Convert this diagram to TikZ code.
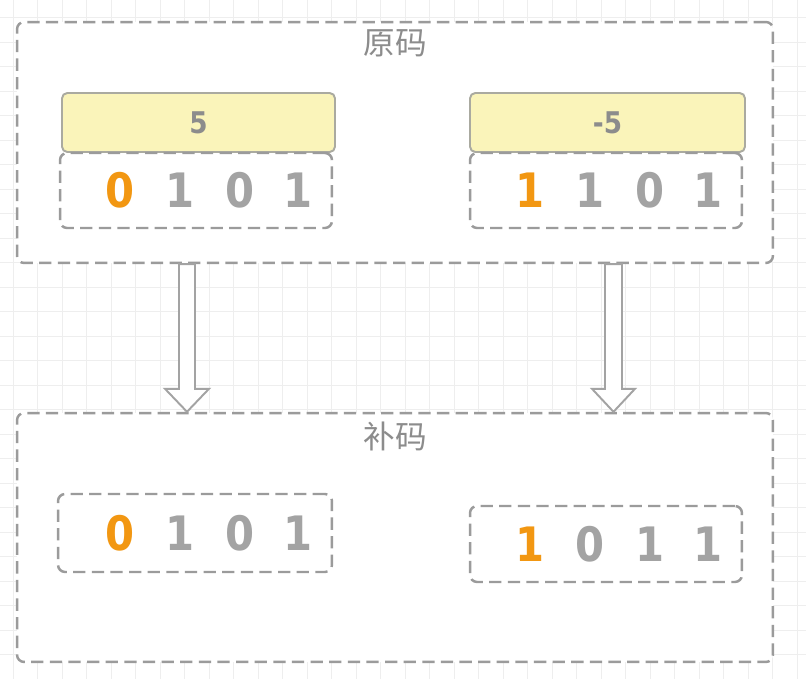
\documentclass[tikz,border=0pt]{standalone}
\usepackage{fontspec}
\newfontfamily\cjkfont{Noto Sans CJK SC}
\newfontfamily\bitfont[FakeStretch=0.88]{DejaVu Sans}
\definecolor{GridColor}{RGB}{238,238,238}
\definecolor{LineGray}{RGB}{155,155,155}
\definecolor{BitGray}{RGB}{163,163,163}
\definecolor{SignOrange}{RGB}{242,151,18}
\definecolor{HeadFill}{RGB}{250,244,186}
\definecolor{HeadLine}{RGB}{170,170,160}
\definecolor{LabelGray}{RGB}{140,140,140}
\usetikzlibrary{calc}

\tikzset{
  dashedframe/.style={draw=LineGray, line width=1.4pt, dash pattern=on 7pt off 3.6pt, rounded corners=4pt, fill=white},
  groupbox/.style={dashedframe, minimum width=15.12cm},
  bitbox/.style={dashedframe, minimum width=5.44cm, minimum height=1.5cm},
  headbox/.style={draw=HeadLine, line width=1.1pt, fill=HeadFill, rounded corners=3pt, minimum height=1.18cm, font=\bitfont\bfseries\fontsize{17}{17}\selectfont, text=LabelGray},
  grouplabel/.style={font=\cjkfont\fontsize{18}{18}\selectfont, text=LabelGray, inner sep=0pt},
  bit/.style={font=\bitfont\bfseries\fontsize{27}{27}\selectfont, text=BitGray, inner sep=0pt},
  signbit/.style={bit, text=SignOrange},
  hollowarrow/.style={draw=BitGray, line width=1.1pt, fill=white, line join=miter}
}

\begin{document}
\begin{tikzpicture}[x=0.02cm, y=-0.02cm]
  % background grid
  \fill[white] (0,0) rectangle (806,679);
  \useasboundingbox (0,0) rectangle (806,679);
  \foreach \gx in {13,37.5,...,806} \draw[GridColor, line width=0.5pt] (\gx,0) -- (\gx,679);
  \foreach \gy in {-7,17.5,...,679} \draw[GridColor, line width=0.5pt] (0,\gy) -- (806,\gy);

  % 原码
  \node[groupbox, minimum height=4.82cm] (orig) at (395,142.5) {};
  \node[grouplabel] (origlabel) at (395,43) {原码};

  \node[headbox, minimum width=5.46cm] (posHead) at (198.5,122.5) {5};
  \node[bitbox] (posOrig) at (196,190.5) {};
  \node[signbit] (po1) at (120,190) {0};
  \node[bit] (po2) at (180,190) {1};
  \node[bit] (po3) at (240,190) {0};
  \node[bit] (po4) at (298,190) {1};

  \node[headbox, minimum width=5.5cm] (negHead) at (607.5,122.5) {-5};
  \node[bitbox] (negOrig) at (606,190.5) {};
  \node[signbit] (no1) at (530,190) {1};
  \node[bit] (no2) at (590,190) {1};
  \node[bit] (no3) at (650,190) {0};
  \node[bit] (no4) at (708,190) {1};

  % 补码
  \node[groupbox, minimum height=4.98cm] (comp) at (395,537.5) {};
  \node[grouplabel] (complabel) at (395,436) {补码};

  \node[bitbox, minimum width=5.48cm, minimum height=1.56cm] (posComp) at (195,533) {};
  \node[signbit] (pc1) at (120,533) {0};
  \node[bit] (pc2) at (180,533) {1};
  \node[bit] (pc3) at (240,533) {0};
  \node[bit] (pc4) at (298,533) {1};

  \node[bitbox, minimum height=1.52cm] (negComp) at (606,544) {};
  \node[signbit] (nc1) at (530,544) {1};
  \node[bit] (nc2) at (590,544) {0};
  \node[bit] (nc3) at (650,544) {1};
  \node[bit] (nc4) at (708,544) {1};

  % arrows
  \coordinate (arrL) at (orig.south -| 187,0);
  \coordinate (arrLend) at (comp.north -| 187,0);
  \coordinate (arrR) at (orig.south -| 613.5,0);
  \coordinate (arrRend) at (comp.north -| 613.5,0);
  \draw[hollowarrow] ($(arrL)+(-8,0)$) -- ($(arrLend)+(-8,-23)$) -- ($(arrLend)+(-22,-23)$) -- (arrLend)
    -- ($(arrLend)+(22,-23)$) -- ($(arrLend)+(8,-23)$) -- ($(arrL)+(8,0)$) -- cycle;
  \draw[hollowarrow] ($(arrR)+(-8.5,0)$) -- ($(arrRend)+(-8.5,-23)$) -- ($(arrRend)+(-21.5,-23)$) -- (arrRend)
    -- ($(arrRend)+(21.5,-23)$) -- ($(arrRend)+(8.5,-23)$) -- ($(arrR)+(8.5,0)$) -- cycle;
\end{tikzpicture}
\end{document}
